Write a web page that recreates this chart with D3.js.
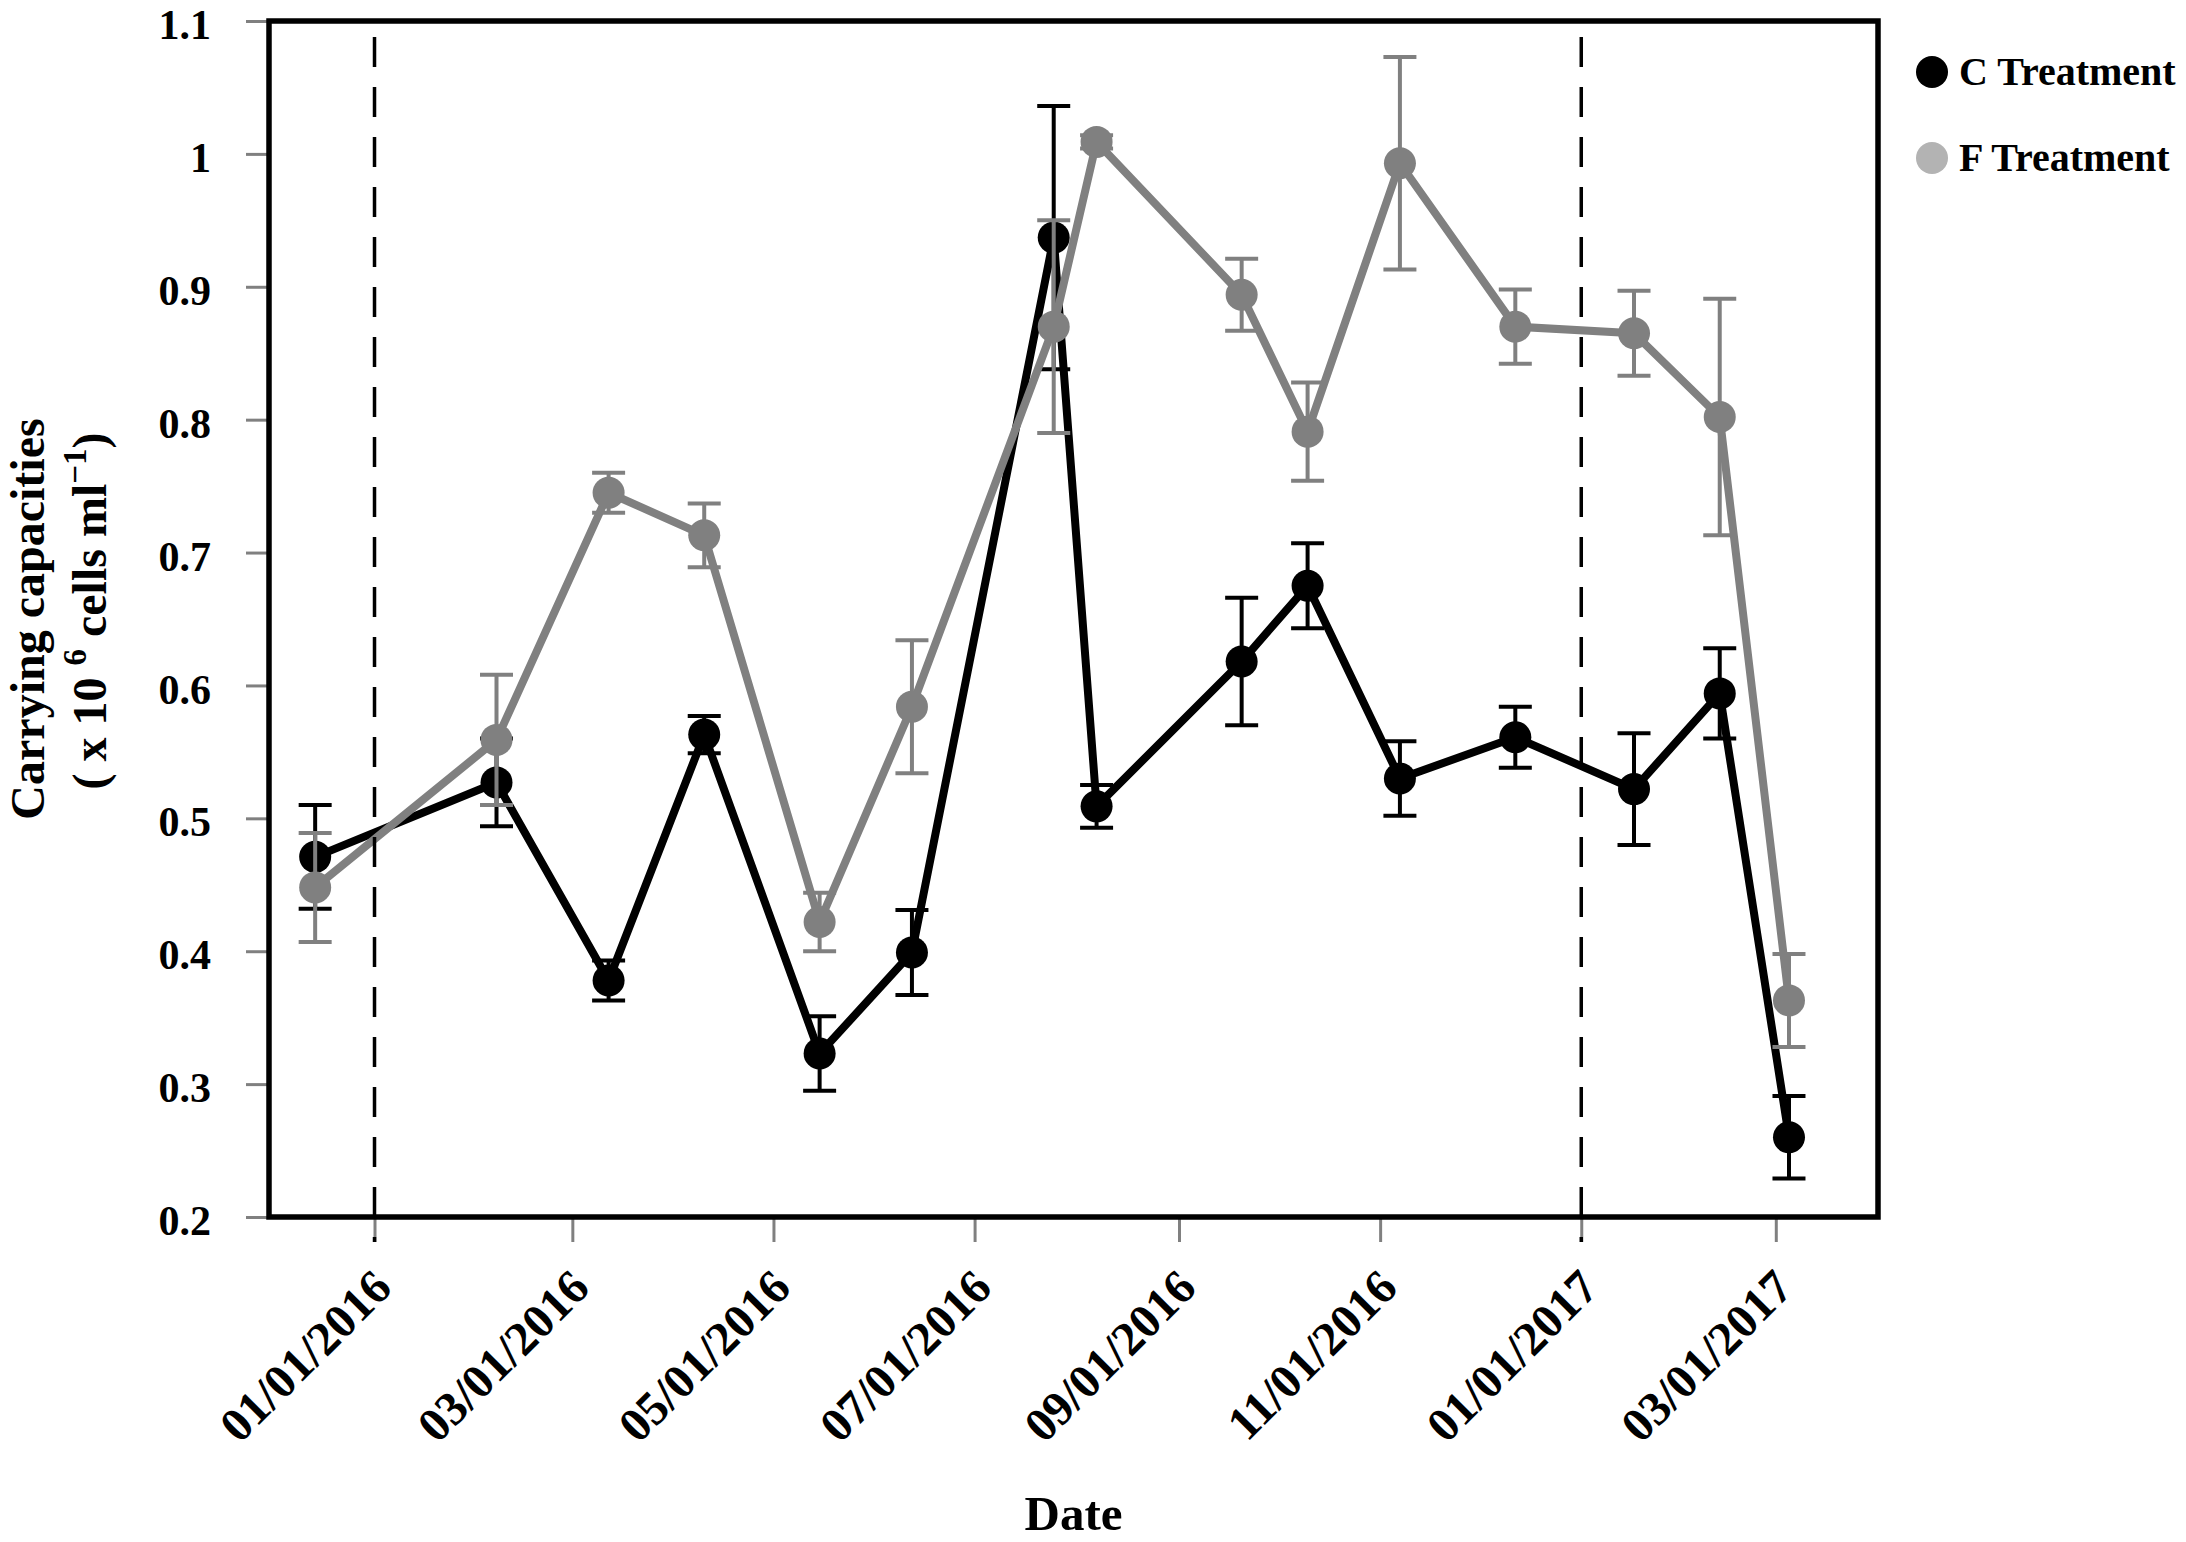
<!DOCTYPE html>
<html>
<head>
<meta charset="utf-8">
<script src="https://cdnjs.cloudflare.com/ajax/libs/d3/7.8.5/d3.min.js"></script>
<style>
  body { margin: 0; background: #fff; }
  svg text { font-family: "Liberation Serif", "Times New Roman", serif; font-weight: bold; fill: #000; }
</style>
</head>
<body>
<svg id="chart" width="2186" height="1542"></svg>
<script>
// sampling dates
var sampleDates = ["2015-12-14", "2016-02-07", "2016-03-12", "2016-04-10", "2016-05-15",
                   "2016-06-12", "2016-07-25", "2016-08-07", "2016-09-20", "2016-10-10",
                   "2016-11-07", "2016-12-12", "2017-01-17", "2017-02-12", "2017-03-05"];
// C Treatment
var cValues = [0.471, 0.527, 0.378, 0.563, 0.323, 0.399, 0.937, 0.509, 0.618, 0.675, 0.530, 0.561, 0.522, 0.594, 0.260];
var cErrors = [0.039, 0.033, 0.015, 0.014, 0.028, 0.032, 0.099, 0.016, 0.048, 0.032, 0.028, 0.023, 0.042, 0.034, 0.031];
// F Treatment
var fValues = [0.448, 0.559, 0.745, 0.713, 0.422, 0.584, 0.870, 1.009, 0.894, 0.791, 0.993, 0.870, 0.865, 0.802, 0.363];
var fErrors = [0.041, 0.049, 0.015, 0.024, 0.022, 0.050, 0.080, 0.005, 0.027, 0.037, 0.080, 0.028, 0.032, 0.089, 0.035];

var yTicks = [0.2, 0.3, 0.4, 0.5, 0.6, 0.7, 0.8, 0.9, 1.0, 1.1];
var xTicks = ["2016-01-01", "2016-03-01", "2016-05-01", "2016-07-01", "2016-09-01", "2016-11-01", "2017-01-01", "2017-03-01"];
var dividers = ["2016-01-01", "2017-01-01"];
var seriesNames = ["C Treatment", "F Treatment"];

var parse = d3.utcParse("%Y-%m-%d");
var svg = d3.select("#chart");

var plotL = 269, plotR = 1878, plotT = 21, plotB = 1217;

var x = d3.scaleUtc()
    .domain([parse("2015-11-30"), parse("2017-04-01")])
    .range([plotL, plotR]);
var y = d3.scaleLinear().domain([0.2, 1.1]).range([plotB, plotT]);

var series = [
  {name: seriesNames[0], color: "#000000", legend: "#000000",
   data: sampleDates.map(function (d, i) { return {date: parse(d), v: cValues[i], e: cErrors[i]}; })},
  {name: seriesNames[1], color: "#808080", legend: "#b3b3b3",
   data: sampleDates.map(function (d, i) { return {date: parse(d), v: fValues[i], e: fErrors[i]}; })}
];

svg.append("rect").attr("width", 2186).attr("height", 1542).attr("fill", "#fff");

// y axis
var yAxis = svg.append("g")
    .attr("transform", "translate(" + plotL + ",0)")
    .call(d3.axisLeft(y).tickValues(yTicks).tickSize(23).tickPadding(35)
        .tickFormat(function (d) { return String(+d.toFixed(1)); }));
yAxis.select(".domain").remove();
yAxis.selectAll(".tick line").attr("stroke", "#808080").attr("stroke-width", 3);
yAxis.selectAll(".tick text").attr("font-size", 42).attr("dy", "0.42em");

// x axis
var xAxis = svg.append("g")
    .attr("transform", "translate(0," + plotB + ")")
    .call(d3.axisBottom(x).tickValues(xTicks.map(parse)).tickSize(25)
        .tickFormat(d3.utcFormat("%m/%d/%Y")));
xAxis.select(".domain").remove();
xAxis.selectAll(".tick line").attr("stroke", "#808080").attr("stroke-width", 3);
xAxis.selectAll(".tick text")
    .attr("font-size", 48)
    .attr("x", 0).attr("y", 0).attr("dy", 0)
    .attr("text-anchor", "end")
    .attr("transform", "translate(19,73) rotate(-45)");

// series
var line = d3.line().x(function (d) { return x(d.date); }).y(function (d) { return y(d.v); });

series.forEach(function (s) {
  var g = svg.append("g");
  var eb = g.selectAll(".err").data(s.data).enter().append("g")
      .attr("stroke", s.color).attr("stroke-width", 4);
  eb.append("line")
      .attr("x1", function (d) { return x(d.date); }).attr("x2", function (d) { return x(d.date); })
      .attr("y1", function (d) { return y(d.v + d.e); }).attr("y2", function (d) { return y(d.v - d.e); });
  eb.append("line")
      .attr("x1", function (d) { return x(d.date) - 16.5; }).attr("x2", function (d) { return x(d.date) + 16.5; })
      .attr("y1", function (d) { return y(d.v + d.e); }).attr("y2", function (d) { return y(d.v + d.e); });
  eb.append("line")
      .attr("x1", function (d) { return x(d.date) - 16.5; }).attr("x2", function (d) { return x(d.date) + 16.5; })
      .attr("y1", function (d) { return y(d.v - d.e); }).attr("y2", function (d) { return y(d.v - d.e); });

  g.append("path").datum(s.data)
      .attr("d", line).attr("fill", "none")
      .attr("stroke", s.color).attr("stroke-width", 8).attr("stroke-linejoin", "round");

  g.selectAll("circle").data(s.data).enter().append("circle")
      .attr("cx", function (d) { return x(d.date); })
      .attr("cy", function (d) { return y(d.v); })
      .attr("r", 16).attr("fill", s.color);
});

// dashed year markers
svg.selectAll(".divider").data(dividers.map(parse)).enter().append("line")
    .attr("x1", function (d) { return x(d); }).attr("x2", function (d) { return x(d); })
    .attr("y1", 37).attr("y2", plotB + 25)
    .attr("stroke", "#000").attr("stroke-width", 3.5).attr("stroke-dasharray", "30,20");

// frame
svg.append("rect")
    .attr("x", plotL).attr("y", plotT).attr("width", plotR - plotL).attr("height", plotB - plotT)
    .attr("fill", "none").attr("stroke", "#000").attr("stroke-width", 5.5);

// axis titles
svg.append("text")
    .attr("x", (plotL + plotR) / 2).attr("y", 1530)
    .attr("text-anchor", "middle").attr("font-size", 49)
    .text("Date");

svg.append("text")
    .attr("transform", "translate(44," + ((plotT + plotB) / 2) + ") rotate(-90)")
    .attr("text-anchor", "middle").attr("font-size", 48)
    .text("Carrying capacities");

var t2 = svg.append("text")
    .attr("transform", "translate(106," + ((plotT + plotB) / 2 - 8) + ") rotate(-90)")
    .attr("text-anchor", "middle").attr("font-size", 48);
t2.append("tspan").text("( x 10 ");
t2.append("tspan").attr("font-size", 33).attr("dy", -20).text("6");
t2.append("tspan").attr("dy", 20).text(" cells ml");
t2.append("tspan").attr("font-size", 33).attr("dy", -20).text("\u22121");
t2.append("tspan").attr("dy", 20).text(")");

// legend
var lg = svg.selectAll(".legend").data(series).enter().append("g")
    .attr("transform", function (d, i) { return "translate(1932," + (72 + i * 86) + ")"; });
lg.append("circle").attr("r", 16).attr("fill", function (d) { return d.legend; });
lg.append("text").attr("x", 27).attr("y", 13).attr("font-size", 40)
    .text(function (d) { return d.name; });
</script>
</body>
</html>
